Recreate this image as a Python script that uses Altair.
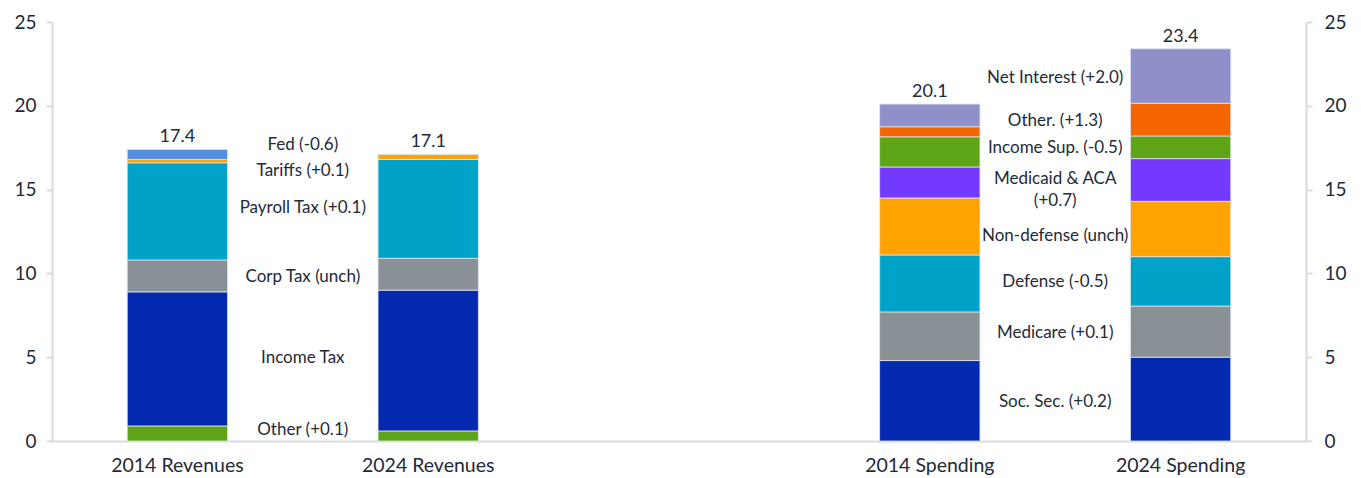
import altair as alt
import pandas as pd

# ---------------- data ----------------
categories = ["2014 Revenues", "2024 Revenues", " ", "2014 Spending", "2024 Spending"]

rev_components = ["Other", "Income Tax", "Corp Tax", "Payroll Tax", "Tariffs", "Fed"]
rev_2014 = [0.9, 8.0, 1.9, 5.8, 0.2, 0.6]
rev_2024 = [0.6, 8.4, 1.9, 5.9, 0.3, 0.0]

sp_components = ["Soc. Sec.", "Medicare", "Defense", "Non-defense", "Medicaid & ACA",
                 "Income Sup.", "Other Spending", "Net Interest"]
sp_2014 = [4.8, 2.9, 3.4, 3.4, 1.85, 1.8, 0.6, 1.35]
sp_2024 = [5.0, 3.05, 2.95, 3.3, 2.55, 1.35, 1.95, 3.25]

totals_cat = ["2014 Revenues", "2024 Revenues", "2014 Spending", "2024 Spending"]
totals_val = [17.4, 17.1, 20.1, 23.4]

rev_labels = ["Other (+0.1)", "Income Tax", "Corp Tax (unch)", "Payroll Tax (+0.1)",
              "Tariffs (+0.1)", "Fed (-0.6)"]
rev_label_y = [0.66, 4.95, 9.78, 13.9, 16.11, 17.64]

sp_labels = ["Soc. Sec. (+0.2)", "Medicare (+0.1)", "Defense (-0.5)", "Non-defense (unch)",
             ["Medicaid & ACA", "(+0.7)"], "Income Sup. (-0.5)", "Other. (+1.3)",
             "Net Interest (+2.0)"]
sp_label_y = [2.35, 6.43, 9.5, 12.23, 15.63, 17.46, 19.11, 21.64]

comp_colors = {
    "Other": "#5da516", "Income Tax": "#0229b0", "Corp Tax": "#899196",
    "Payroll Tax": "#00a3c7", "Tariffs": "#ffa300", "Fed": "#5290de",
    "Soc. Sec.": "#0229b0", "Medicare": "#899196", "Defense": "#00a3c7",
    "Non-defense": "#ffa300", "Medicaid & ACA": "#7339fe", "Income Sup.": "#5da516",
    "Other Spending": "#f56600", "Net Interest": "#8f90c9",
}

# ---------------- tables ----------------
rows = []
for cat, vals in [("2014 Revenues", rev_2014), ("2024 Revenues", rev_2024)]:
    for i, (c, v) in enumerate(zip(rev_components, vals)):
        rows.append({"cat": cat, "comp": c, "value": v, "order": i})
for cat, vals in [("2014 Spending", sp_2014), ("2024 Spending", sp_2024)]:
    for i, (c, v) in enumerate(zip(sp_components, vals)):
        rows.append({"cat": cat, "comp": c, "value": v, "order": i})
bars_df = pd.DataFrame(rows)

totals_df = pd.DataFrame({"cat": totals_cat, "total": totals_val,
                          "txt": [f"{v:.1f}" for v in totals_val]})

lab_rows = []
for t, y in zip(rev_labels, rev_label_y):
    lab_rows.append({"cat": "2014 Revenues", "txt": t, "y": y})
for t, y in zip(sp_labels, sp_label_y):
    lab_rows.append({"cat": "2014 Spending", "txt": t, "y": y})
labels_df = pd.DataFrame(lab_rows)

FONT = "Lato"
TXT = "#1e2a38"
AXC = "#d9dcdf"

xscale = alt.Scale(domain=categories, paddingInner=0.6, paddingOuter=0.3)
yscale = alt.Scale(domain=[0, 25], nice=False)

x_enc = alt.X("cat:N", scale=xscale, sort=categories, title=None,
              axis=alt.Axis(labelAngle=0, labelFontSize=19.5, labelFont=FONT, labelColor=TXT,
                            domainColor=AXC, domainWidth=2, ticks=False, labelPadding=15))

bars = alt.Chart(bars_df).transform_filter("datum.value > 0").mark_bar(
    stroke="#dfe3f0", strokeWidth=0.8).encode(
    x=x_enc,
    y=alt.Y("value:Q", stack="zero", scale=yscale, title=None,
            axis=alt.Axis(values=[0, 5, 10, 15, 20, 25], grid=False, labelFontSize=19,
                          labelFont=FONT, labelColor=TXT, domainColor=AXC, domainWidth=2,
                          tickColor=AXC, tickSize=6, tickWidth=2, labelPadding=10)),
    color=alt.Color("comp:N", scale=alt.Scale(domain=list(comp_colors.keys()),
                                              range=list(comp_colors.values())), legend=None),
    order=alt.Order("order:Q", sort="ascending"),
)

totals = alt.Chart(totals_df).mark_text(font=FONT, fontSize=18, color=TXT,
                                        baseline="bottom", dy=-3).encode(
    x=x_enc,
    y=alt.Y("total:Q", scale=yscale, title=None,
            axis=alt.Axis(orient="right", values=[0, 5, 10, 15, 20, 25], grid=False,
                          labelFontSize=19, labelFont=FONT, labelColor=TXT,
                          domainColor=AXC, domainWidth=2, tickColor=AXC, tickSize=6,
                          tickWidth=2, labelPadding=12)),
    text="txt:N",
)

labels = alt.Chart(labels_df).mark_text(font=FONT, fontSize=17, color=TXT,
                                        baseline="middle", align="center",
                                        dx=125.4, lineHeight=22).encode(
    x=x_enc,
    y=alt.Y("y:Q", scale=yscale, axis=None),
    text="txt",
)

chart = alt.layer(bars, totals, labels).resolve_scale(y="independent").properties(
    width=1254, height=419, padding={"left": 5, "top": 5, "right": 5, "bottom": 0}
).configure_view(stroke=None)

chart.save("out.html", embed_options={"renderer": "svg", "actions": False})
